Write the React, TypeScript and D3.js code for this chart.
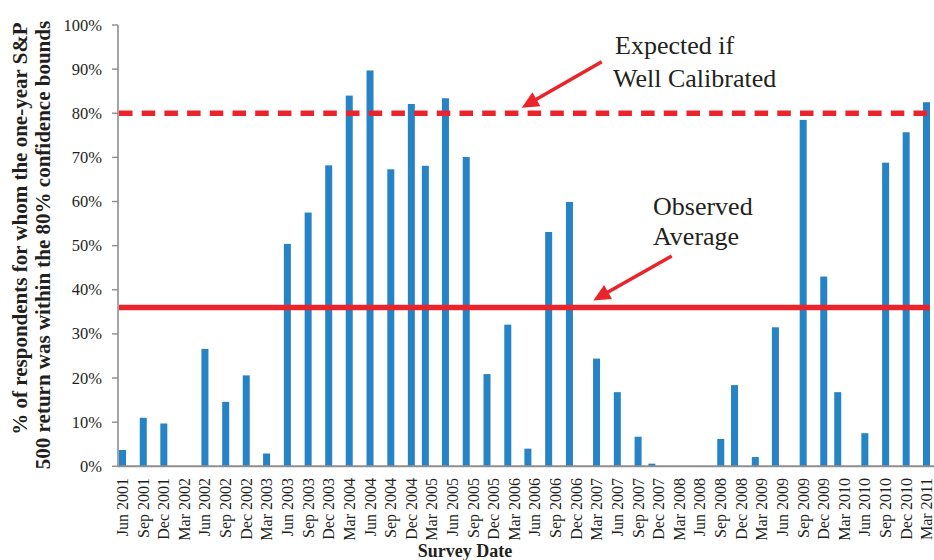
import React from "react";
import * as d3 from "d3";

const surveyDates = [
  "2001-06", "2001-09", "2001-12", "2002-06", "2002-09", "2002-12", "2003-03",
  "2003-06", "2003-09", "2003-12", "2004-03", "2004-06", "2004-09", "2004-12",
  "2005-02", "2005-05", "2005-08", "2005-11", "2006-02", "2006-05", "2006-08",
  "2006-11", "2007-03", "2007-06", "2007-09", "2007-11", "2008-09", "2008-11",
  "2009-02", "2009-05", "2009-09", "2009-12", "2010-02", "2010-06", "2010-09",
  "2010-12", "2011-03",
];

const pctWithin = [
  3.7, 11.0, 9.7, 26.6, 14.6, 20.6, 2.9,
  50.4, 57.5, 68.2, 84.0, 89.7, 67.3, 82.1,
  68.1, 83.4, 70.1, 20.9, 32.1, 4.0, 53.1,
  59.9, 24.4, 16.8, 6.7, 0.6, 6.2, 18.4,
  2.1, 31.5, 78.5, 43.0, 16.8, 7.5, 68.8,
  75.7, 82.5,
];

const tickLabels = [
  "Jun 2001", "Sep 2001", "Dec 2001", "Mar 2002", "Jun 2002", "Sep 2002", "Dec 2002",
  "Mar 2003", "Jun 2003", "Sep 2003", "Dec 2003", "Mar 2004", "Jun 2004", "Sep 2004",
  "Dec 2004", "Mar 2005", "Jun 2005", "Sep 2005", "Dec 2005", "Mar 2006", "Jun 2006",
  "Sep 2006", "Dec 2006", "Mar 2007", "Jun 2007", "Sep 2007", "Dec 2007", "Mar 2008",
  "Jun 2008", "Sep 2008", "Dec 2008", "Mar 2009", "Jun 2009", "Sep 2009", "Dec 2009",
  "Mar 2010", "Jun 2010", "Sep 2010", "Dec 2010", "Mar 2011",
];

const yTicks = [0, 10, 20, 30, 40, 50, 60, 70, 80, 90, 100];
const expectedLevel = 80;
const observedAverage = 36;

const W = 934;
const H = 560;
const axisX = 118;
const plotRight = 934;
const plotTop = 25;
const plotBottom = 466.3;

const SERIF = "'Liberation Serif', 'Times New Roman', Times, serif";
const BLUE = "#2683c6";
const RED = "#e9242a";
const AXIS = "#8e8e90";
const TEXT = "#231f20";

function Arrow({ x1, y1, x2, y2 }: { x1: number; y1: number; x2: number; y2: number }) {
  const dx = x2 - x1;
  const dy = y2 - y1;
  const len = Math.sqrt(dx * dx + dy * dy);
  const ux = dx / len;
  const uy = dy / len;
  const headLen = 17;
  const headHalf = 8;
  const bx = x2 - ux * headLen;
  const by = y2 - uy * headLen;
  const px = -uy;
  const py = ux;
  const pts = [
    [x2, y2],
    [bx + px * headHalf, by + py * headHalf],
    [bx - px * headHalf, by - py * headHalf],
  ]
    .map((p) => p.join(","))
    .join(" ");
  return (
    <g>
      <line x1={x1} y1={y1} x2={bx + ux * 2} y2={by + uy * 2} stroke={RED} strokeWidth={3.6} />
      <polygon points={pts} fill={RED} />
    </g>
  );
}

export default function App() {
  const parseMonth = d3.timeParse("%Y-%m");
  const parseLabel = d3.timeParse("%b %Y");

  const x = d3
    .scaleTime()
    .domain([new Date(2001, 5, 1), new Date(2011, 2, 1)])
    .range([122.5, 926.5]);
  const y = d3.scaleLinear().domain([0, 100]).range([plotBottom, plotTop]);

  const bars = surveyDates.map((d, i) => ({ date: parseMonth(d) as Date, v: pctWithin[i] }));
  const barW = 7;

  return (
    <svg
      width={W}
      height={H}
      viewBox={`0 0 ${W} ${H}`}
      style={{ position: "absolute", left: 0, top: 0, background: "#fff" }}
    >
      <rect x={0} y={0} width={W} height={H} fill="#fff" />

      {/* y axis title */}
      <g fontFamily={SERIF} fontWeight="bold" fontSize={21} fill={TEXT}>
        <text transform={`translate(27,228.5) rotate(-90)`} textAnchor="middle">
          % of respondents for whom the one-year S&amp;P
        </text>
        <text transform={`translate(50,245) rotate(-90)`} textAnchor="middle">
          500 return was within the 80% confidence bounds
        </text>
      </g>

      {/* y axis */}
      <line x1={axisX} x2={axisX} y1={plotTop} y2={plotBottom} stroke={AXIS} strokeWidth={1.6} />
      {yTicks.map((t) => (
        <g key={t}>
          <line x1={axisX - 6} x2={axisX} y1={y(t)} y2={y(t)} stroke={AXIS} strokeWidth={1.4} />
          <text
            x={102}
            y={y(t)}
            textAnchor="end"
            dominantBaseline="central"
            fontFamily={SERIF}
            fontSize={16.5}
            fill={TEXT}
          >
            {t}%
          </text>
        </g>
      ))}

      {/* bars */}
      {bars.map((b, i) => (
        <rect
          key={i}
          x={x(b.date) - barW / 2}
          y={y(b.v)}
          width={barW}
          height={y(0) - y(b.v)}
          fill={BLUE}
        />
      ))}

      {/* x axis */}
      <line x1={axisX} x2={plotRight} y1={plotBottom} y2={plotBottom} stroke={AXIS} strokeWidth={2} />
      {tickLabels.map((l) => {
        const d = parseLabel(l) as Date;
        return (
          <text
            key={l}
            transform={`translate(${x(d)},478) rotate(-90)`}
            textAnchor="end"
            dominantBaseline="central"
            fontFamily={SERIF}
            fontSize={16}
            fill={TEXT}
          >
            {l}
          </text>
        );
      })}
      <text x={465} y={557} textAnchor="middle" fontFamily={SERIF} fontWeight="bold" fontSize={18} fill={TEXT}>
        Survey Date
      </text>

      {/* reference lines */}
      <line
        x1={axisX + 1}
        x2={plotRight}
        y1={y(expectedLevel)}
        y2={y(expectedLevel)}
        stroke={RED}
        strokeWidth={5.5}
        strokeDasharray="13.5 9.2"
      />
      <line
        x1={axisX + 1}
        x2={930}
        y1={y(observedAverage)}
        y2={y(observedAverage)}
        stroke={RED}
        strokeWidth={5.5}
      />

      {/* annotations */}
      <g fontFamily={SERIF} fontSize={26} fill={TEXT}>
        <text x={615} y={53.5}>Expected if</text>
        <text x={613} y={86.5}>Well Calibrated</text>
        <text x={653} y={215}>Observed</text>
        <text x={653} y={245}>Average</text>
      </g>
      <Arrow x1={601.7} y1={61.7} x2={521.7} y2={y(expectedLevel) - 5.5} />
      <Arrow x1={671.7} y1={256} x2={593.3} y2={y(observedAverage) - 7} />
    </svg>
  );
}
